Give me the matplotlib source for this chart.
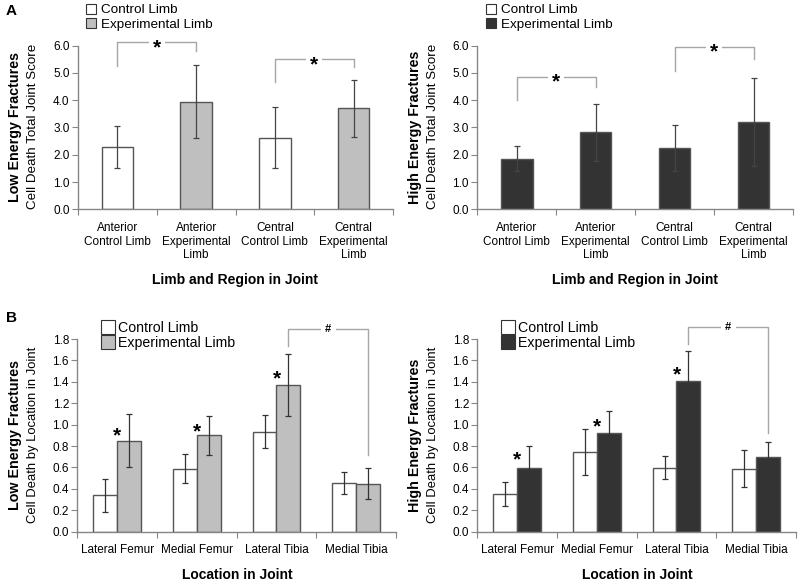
import numpy as np
import matplotlib
matplotlib.use("Agg")
import matplotlib.pyplot as plt
from matplotlib.lines import Line2D

plt.rcParams['font.family'] = ['Liberation Sans', 'DejaVu Sans']

# ------------------------------------------------------------------------------
# Datos

# Panel A - regiones
regiones = ["Anterior\nControl Limb", "Anterior\nExperimental\nLimb",
            "Central\nControl Limb", "Central\nExperimental\nLimb"]
low_total = [2.30, 3.95, 2.62, 3.70]
low_total_err = [0.77, 1.34, 1.12, 1.06]
high_total = [1.86, 2.82, 2.25, 3.20]
high_total_err = [0.47, 1.06, 0.85, 1.62]

# brackets: (x1, x2, top, left leg bottom, right leg bottom)
low_total_brackets = [(0, 1, 6.12, 5.27, 5.80), (2, 3, 5.50, 4.67, 5.23)]
high_total_brackets = [(0, 1, 4.86, 4.00, 4.48), (2, 3, 5.96, 5.08, 5.51)]

# Panel B - localizacion
ubicaciones = ["Lateral Femur", "Medial Femur", "Lateral Tibia", "Medial Tibia"]
low_ctrl = [0.34, 0.59, 0.935, 0.455]
low_ctrl_err = [0.153, 0.135, 0.153, 0.10]
low_exp = [0.85, 0.90, 1.367, 0.45]
low_exp_err = [0.25, 0.18, 0.29, 0.145]
high_ctrl = [0.352, 0.747, 0.598, 0.589]
high_ctrl_err = [0.115, 0.215, 0.11, 0.175]
high_exp = [0.595, 0.922, 1.41, 0.694]
high_exp_err = [0.205, 0.21, 0.28, 0.14]

low_stars = [(0, 0.95), (1, 0.98), (2, 1.48)]
high_stars = [(0, 0.72), (1, 1.03), (2, 1.52)]
low_hash = (2.15, 3.15, 1.89, 1.73, 0.716)
high_hash = (2.15, 3.15, 1.915, 1.753, 0.92)

# ------------------------------------------------------------------------------
# Estilos

GRIS = '#bfbfbf'
OSCURO = '#333333'
BORDE = '#555555'
EJE = '#868686'
BRACKET = '#a6a6a6'

fig = plt.figure(figsize=(8, 5.84), dpi=100)
W, H = 800.0, 584.0


def caja(x0, x1, ytop, ybot):
    return [x0 / W, 1 - ybot / H, (x1 - x0) / W, (ybot - ytop) / H]


def estilo_ejes(ax, n, ymax, paso, fmt):
    ax.set_xlim(-0.5, n - 0.5)
    ax.set_ylim(0, ymax)
    for s in ['top', 'right']:
        ax.spines[s].set_visible(False)
    for s in ['left', 'bottom']:
        ax.spines[s].set_color(EJE)
        ax.spines[s].set_linewidth(1)
    ax.set_yticks(np.arange(0, ymax + 1e-9, paso))
    ax.set_yticklabels([fmt % v for v in np.arange(0, ymax + 1e-9, paso)], fontsize=8.5)
    ax.set_xticks(np.arange(-0.5, n, 1.0))
    ax.set_xticklabels([])
    ax.tick_params(axis='x', which='major', length=4, color=EJE)
    ax.tick_params(axis='y', length=4, color=EJE, pad=2)
    ax.tick_params(axis='x', which='minor', length=0)


def estrella(ax, x, y, txt='*', size=15, fondo=False):
    # el asterisco queda alto en su caja, se baja un poco
    kw = {}
    if fondo:
        kw['bbox'] = dict(facecolor='white', edgecolor='none', pad=3)
    ax.annotate(txt, (x, y), xytext=(0, -4), textcoords='offset points',
                ha='center', va='center', fontsize=size, fontweight='bold',
                annotation_clip=False, **kw)


def bracket(ax, b, txt, size):
    x1, x2, top, l, r = b
    ax.plot([x1, x1, x2, x2], [l, top, top, r], color=BRACKET, lw=1, clip_on=False)
    if txt == '*':
        estrella(ax, (x1 + x2) / 2, top, txt, size, fondo=True)
    else:
        ax.text((x1 + x2) / 2, top, txt, ha='center', va='center', fontsize=size,
                fontweight='bold', clip_on=False,
                bbox=dict(facecolor='white', edgecolor='none', pad=3))


# ------------------------------------------------------------------------------
# Panel A

paneles_a = [
    (caja(78, 393, 45.7, 209.3), low_total, low_total_err, ['white', GRIS, 'white', GRIS],
     low_total_brackets, "Low Energy Fractures", GRIS, 0),
    (caja(477.3, 793, 45.7, 209.3), high_total, high_total_err, [OSCURO] * 4,
     high_total_brackets, "High Energy Fractures", OSCURO, 400),
]

for pos, vals, errs, colores, brs, titulo, col_exp, dx in paneles_a:
    ax = fig.add_axes(pos)
    x = np.arange(len(vals))
    ax.bar(x, vals, width=0.4, color=colores, edgecolor=BORDE, linewidth=1)
    ax.errorbar(x, vals, yerr=errs, fmt='none', ecolor='#444444', elinewidth=0.9,
                capsize=2.5, capthick=0.9)
    estilo_ejes(ax, 4, 6.0, 1.0, '%.1f')
    ax.set_xticks(x, minor=True)
    ax.set_xticklabels(regiones, minor=True, fontsize=8.5, va='top')
    ax.tick_params(axis='x', which='minor', pad=9)
    for b in brs:
        bracket(ax, b, '*', 15)
    fig.text((dx + 15) / W, 1 - 127 / H, titulo, rotation=90, ha='center', va='center',
             fontsize=10.3, fontweight='bold')
    fig.text((dx + 33) / W, 1 - 126 / H, "Cell Death Total Joint Score", rotation=90,
             ha='center', va='center', fontsize=9.6)
    fig.text((dx + 235) / W, 1 - 280 / H, "Limb and Region in Joint", ha='center',
             va='center', fontsize=10, fontweight='bold')
    handles = [Line2D([], [], marker='s', ls='', markersize=7, markerfacecolor='white',
                      markeredgecolor='#333333', markeredgewidth=0.8),
               Line2D([], [], marker='s', ls='', markersize=7, markerfacecolor=col_exp,
                      markeredgecolor='#333333', markeredgewidth=0.8)]
    ax.legend(handles, ["Control Limb", "Experimental Limb"], loc='upper left',
              bbox_to_anchor=((dx + 86) / W, 1 - 4 / H), bbox_transform=fig.transFigure,
              frameon=False, fontsize=9.7, handlelength=0.8, handletextpad=0.3,
              labelspacing=0.15, borderpad=0, borderaxespad=0)

# ------------------------------------------------------------------------------
# Panel B

paneles_b = [
    (caja(77.3, 396, 339, 531.7), low_ctrl, low_ctrl_err, low_exp, low_exp_err, GRIS,
     low_stars, low_hash, "Low Energy Fractures", 0),
    (caja(477.3, 796, 339, 531.7), high_ctrl, high_ctrl_err, high_exp, high_exp_err, OSCURO,
     high_stars, high_hash, "High Energy Fractures", 400),
]

for pos, ctrl, ctrl_e, exp, exp_e, col_exp, stars, hsh, titulo, dx in paneles_b:
    ax = fig.add_axes(pos)
    x = np.arange(len(ctrl))
    w = 0.3
    ax.bar(x - w / 2, ctrl, width=w, color='white', edgecolor=BORDE, linewidth=1)
    ax.bar(x + w / 2, exp, width=w, color=col_exp, edgecolor=BORDE, linewidth=1)
    ax.errorbar(x - w / 2, ctrl, yerr=ctrl_e, fmt='none', ecolor='#333333',
                elinewidth=0.9, capsize=2.5, capthick=0.9)
    ax.errorbar(x + w / 2, exp, yerr=exp_e, fmt='none', ecolor='#333333',
                elinewidth=0.9, capsize=2.5, capthick=0.9)
    estilo_ejes(ax, 4, 1.8, 0.2, '%.1f')
    ax.set_xticks(x, minor=True)
    ax.set_xticklabels(ubicaciones, minor=True, fontsize=8.5)
    ax.tick_params(axis='x', which='minor', pad=9)
    for sx, sy in stars:
        estrella(ax, sx, sy, '*', 15)
    bracket(ax, hsh, '#', 8)
    fig.text((dx + 15) / W, 1 - 435 / H, titulo, rotation=90, ha='center', va='center',
             fontsize=10.3, fontweight='bold')
    fig.text((dx + 33) / W, 1 - 435 / H, "Cell Death by Location in Joint", rotation=90,
             ha='center', va='center', fontsize=9.4)
    fig.text((dx + 237) / W, 1 - 575 / H, "Location in Joint", ha='center',
             va='center', fontsize=10, fontweight='bold')
    handles = [Line2D([], [], marker='s', ls='', markersize=10, markerfacecolor='white',
                      markeredgecolor='#333333', markeredgewidth=0.8),
               Line2D([], [], marker='s', ls='', markersize=10, markerfacecolor=col_exp,
                      markeredgecolor='#333333', markeredgewidth=0.8)]
    ax.legend(handles, ["Control Limb", "Experimental Limb"], loc='upper left',
              bbox_to_anchor=((dx + 101) / W, 1 - 321 / H), bbox_transform=fig.transFigure,
              frameon=False, fontsize=10.2, handlelength=1.0, handletextpad=0.2,
              labelspacing=0.1, borderpad=0, borderaxespad=0)

# Letras de panel
fig.text(6 / W, 1 - 11 / H, "A", fontsize=11, fontweight='bold', va='center')
fig.text(6 / W, 1 - 318 / H, "B", fontsize=11, fontweight='bold', va='center')

fig.savefig("out.png", dpi=100)
